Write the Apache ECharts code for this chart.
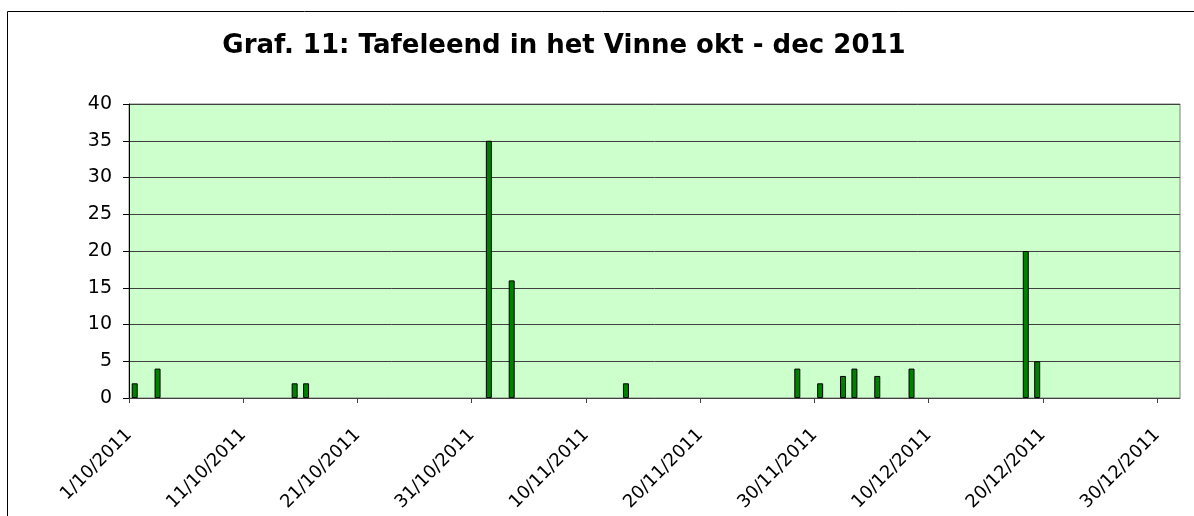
<!DOCTYPE html>
<html>
<head>
<meta charset="utf-8">
<script src="https://cdn.jsdelivr.net/npm/echarts@6/dist/echarts.min.js"></script>
<style>
  html, body { margin: 0; padding: 0; background: #fff; }
  #chart { width: 1194px; height: 516px; }
</style>
</head>
<body>
<div id="chart"></div>
<script>
// data
var dates = ['1/10/2011', '3/10/2011', '15/10/2011', '16/10/2011', '1/11/2011', '3/11/2011',
  '13/11/2011', '28/11/2011', '30/11/2011', '2/12/2011', '3/12/2011', '5/12/2011',
  '8/12/2011', '18/12/2011', '19/12/2011'];
var counts = [2, 4, 2, 2, 35, 16, 2, 4, 2, 3, 4, 3, 4, 20, 5];
var yTicks = [0, 5, 10, 15, 20, 25, 30, 35, 40];

var START = Date.UTC(2011, 9, 1);
var DAY = 86400000;

// date string -> days since 1/10/2011
function dayIndex(s) {
  var p = s.split('/');
  return (Date.UTC(+p[2], +p[1] - 1, +p[0]) - START) / DAY;
}
function dayLabel(v) {
  if (v % 10 !== 0) return '';
  var d = new Date(START + v * DAY);
  return d.getUTCDate() + '/' + (d.getUTCMonth() + 1) + '/' + d.getUTCFullYear();
}

var barData = [];
dates.forEach(function (s, i) {
  // bar sits in the middle of its day slot
  barData.push([dayIndex(s) + 0.5, counts[i]]);
});

var font = 'DejaVu Sans, sans-serif';
var myChart = echarts.init(document.getElementById('chart'));
var option = {
  animation: false,
  title: {
    text: 'Graf. 11: Tafeleend in het Vinne okt - dec 2011',
    left: 559,
    textAlign: 'center',
    top: 28,
    textStyle: { fontFamily: font, fontSize: 26, fontWeight: 'bold', color: '#000' }
  },
  graphic: [{
    type: 'rect',
    shape: { x: 7.5, y: 11.5, width: 1400, height: 800 },
    style: { fill: 'none', stroke: '#000', lineWidth: 1 },
    silent: true
  }],
  grid: {
    left: 129, top: 104, right: 14, bottom: 118,
    show: true, backgroundColor: '#CCFFCC', borderColor: '#808080', borderWidth: 1
  },
  xAxis: {
    type: 'value',
    min: 0, max: 92, interval: 10,
    splitLine: { show: false },
    axisLine: { show: true, lineStyle: { color: '#404040', width: 1 } },
    axisTick: { show: true, length: 5, lineStyle: { color: '#404040' } },
    axisLabel: {
      rotate: 45, margin: 34, formatter: dayLabel, showMaxLabel: false,
      fontFamily: font, fontSize: 18, color: '#000'
    }
  },
  yAxis: {
    type: 'value',
    min: yTicks[0], max: yTicks[yTicks.length - 1], interval: 5,
    splitLine: { show: true, lineStyle: { color: '#404040', width: 1 } },
    axisLine: { show: true, lineStyle: { color: '#000', width: 1 } },
    axisTick: { show: true, length: 6, lineStyle: { color: '#000' } },
    axisLabel: { margin: 17, fontFamily: font, fontSize: 19, color: '#000' }
  },
  series: [{
    name: 'Tafeleend',
    type: 'bar',
    barWidth: 6,
    data: barData,
    itemStyle: { color: '#008000', borderColor: '#000', borderWidth: 1 }
  }]
};
myChart.setOption(option);
</script>
</body>
</html>
